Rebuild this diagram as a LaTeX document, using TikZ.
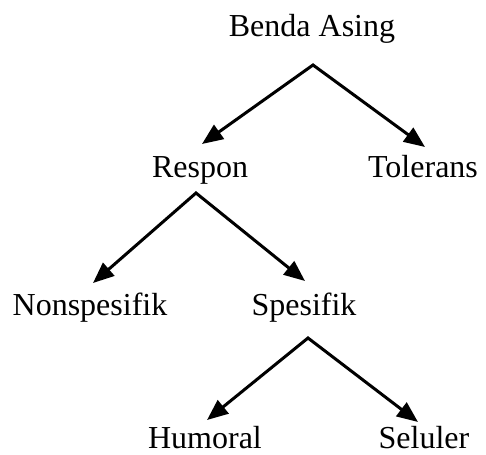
\documentclass[tikz,border=0pt]{standalone}
\usepackage{fontspec}
\setmainfont{Liberation Serif}
\usetikzlibrary{arrows.meta}
\begin{document}
\begin{tikzpicture}[x=1pt,y=-1pt,
  lbl/.style={anchor=base,inner sep=0pt,font=\fontsize{32}{38}\selectfont},
  arr/.style={line width=3pt,line join=miter,
    {Triangle[length=21pt,width=17pt]}-{Triangle[length=21pt,width=17pt]}}]
\useasboundingbox (0,0) rectangle (486,454);
\fill[white] (0,0) rectangle (486,454);
% labels
\node[lbl] (ba) at (312,37) {Benda Asing};
\node[lbl] (re) at (200,178) {Respon};
\node[lbl] (to) at (423,178) {Tolerans};
\node[lbl] (ns) at (90,315) {Nonspesifik};
\node[lbl] (sp) at (304,315) {Spesifik};
\node[lbl] (hu) at (205,448) {Humoral};
\node[lbl] (se) at (424,448) {Seluler};
% connector points
\coordinate (ba-out) at (313,65);
\coordinate (re-in) at (202,144);
\coordinate (to-in) at (425,147);
\coordinate (re-out) at (196,193);
\coordinate (ns-in) at (93,283);
\coordinate (sp-in) at (305,281);
\coordinate (sp-out) at (308,338);
\coordinate (hu-in) at (207,420);
\coordinate (se-in) at (418,422);
% connectors
\draw[arr] (re-in) -- (ba-out) -- (to-in);
\draw[arr] (ns-in) -- (re-out) -- (sp-in);
\draw[arr] (hu-in) -- (sp-out) -- (se-in);
\end{tikzpicture}
\end{document}
